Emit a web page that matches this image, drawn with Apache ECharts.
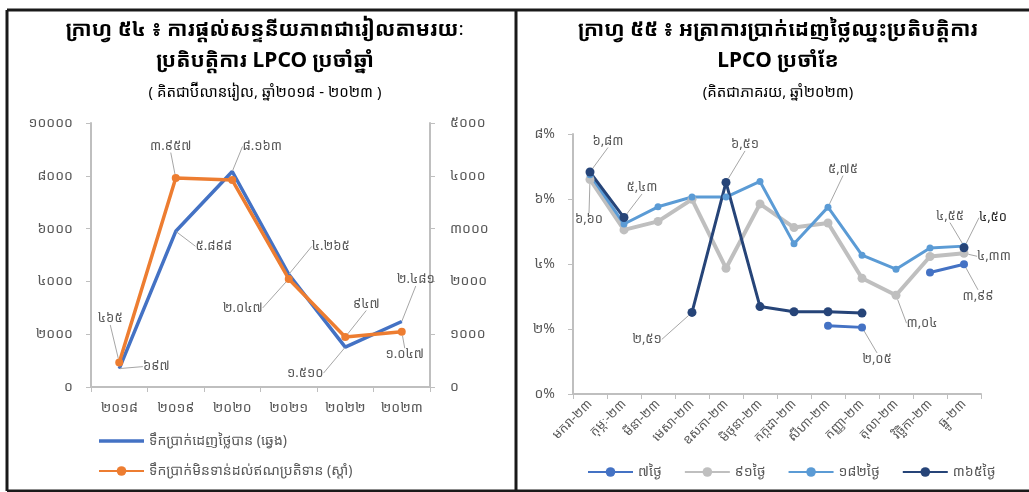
<!DOCTYPE html>
<html>
<head>
<meta charset="utf-8">
<script src="https://cdn.jsdelivr.net/npm/echarts@6/dist/echarts.min.js"></script>
<style>
    html, body { margin: 0; padding: 0; background: #fff; }
    #main { width: 1029px; height: 492px; }
</style>
</head>
<body>
<div id="main"></div>
<script>
// ក្រាហ្វ ៥៤ data
const years = ['២០១៨', '២០១៩', '២០២០', '២០២១', '២០២២', '២០២៣'];
const bidAmount = [697, 5898, 8163, 4265, 1510, 2481];          // left axis
const outstandingAmount = [465, 3957, 3920, 2047, 947, 1047];  // right axis
const leftTicks = [0, 2000, 4000, 6000, 8000, 10000];
const rightTicks = [0, 1000, 2000, 3000, 4000, 5000];

// ក្រាហ្វ ៥៥ data
const months = ['មករា-២៣', 'កុម្ភៈ-២៣', 'មីនា-២៣', 'មេសា-២៣', 'ឧសភា-២៣', 'មិថុនា-២៣',
    'កក្កដា-២៣', 'សីហា-២៣', 'កញ្ញា-២៣', 'តុលា-២៣', 'វិច្ឆិកា-២៣', 'ធ្នូ-២៣'];
const rate7 = [null, null, null, null, null, null, null, 2.10, 2.05, null, 3.74, 3.99];
const rate91 = [6.60, 5.05, 5.31, 5.99, 3.87, 5.85, 5.12, 5.26, 3.56, 3.04, 4.23, 4.33];
const rate182 = [6.75, 5.23, 5.76, 6.06, 6.06, 6.54, 4.62, 5.75, 4.27, 3.84, 4.49, 4.55];
const rate365 = [6.83, 5.43, null, 2.51, 6.51, 2.69, 2.53, 2.53, 2.49, null, null, 4.50];

const khDigits = '០១២៣៤៥៦៧៨៩';
function toKh(s) {
    return String(s).replace(/[0-9]/g, d => khDigits[+d]);
}
function fmtAmount(v) {
    return toKh(String(v).replace(/\B(?=(\d{3})+(?!\d))/g, '.'));
}
function fmtRate(v) {
    return toKh(v.toFixed(2).replace('.', ','));
}

// label offsets: [seriesIndex][dataIndex] = [dx, dy]
const labelOffsets = {
    0: {0: [37, -2], 1: [38, 15], 2: [30, -25], 3: [42, -28], 4: [-40, 26], 5: [14, -42]},
    1: {0: [-9, -44], 1: [-5, -32], 3: [-46, 29], 4: [21, -33], 5: [3, 23]},
    2: {8: [15, 32], 11: [14, 32]},
    3: {0: [-1, 40], 9: [26, 28], 11: [30, 3]},
    4: {7: [15, -38], 11: [-14, -30]},
    5: {0: [18, -31], 1: [18, -30], 3: [-45, 27], 4: [19, -38], 11: [29, -30]}
};

const khFont = '"Noto Sans Khmer", "Khmer OS", "Khmer OS System", "Noto Sans", sans-serif';
const labelGrey = '#595959';
const axisGrey = '#BFBFBF';

function withLabels(values, seriesIndex, fmt, darkIdx) {
    const offs = labelOffsets[seriesIndex] || {};
    return values.map((v, i) => {
        if (!(i in offs) || v === null) return v;
        return {
            value: v,
            label: {
                show: true,
                formatter: () => fmt(v),
                color: darkIdx === i ? '#262626' : labelGrey
            }
        };
    });
}

function labelLayout(params) {
    const offs = labelOffsets[params.seriesIndex] || {};
    const o = offs[params.dataIndex];
    if (!o) return {};
    return {dx: o[0], dy: o[1]};
}

const baseLabel = {
    show: false,
    position: 'inside',
    fontFamily: khFont,
    fontSize: 13,
    color: labelGrey
};
const baseLabelLine = {
    show: true,
    lineStyle: {color: '#A6A6A6', width: 1}
};

const chart = echarts.init(document.getElementById('main'), null, {renderer: 'canvas'});

const option = {
    backgroundColor: '#fff',
    textStyle: {fontFamily: khFont},
    animation: false,
    title: [{
        text: 'ក្រាហ្វ ៥៤ ៖ ការផ្ដល់សន្ទនីយភាពជារៀលតាមរយៈ\nប្រតិបត្តិការ LPCO ប្រចាំឆ្នាំ',
        subtext: '( គិតជាប៊ីលានរៀល, ឆ្នាំ២០១៨ - ២០២៣ )',
        left: 260,
        top: 10,
        textAlign: 'center',
        itemGap: 8,
        textStyle: {fontFamily: khFont, fontSize: 21, fontWeight: 'bold', color: '#000', lineHeight: 31},
        subtextStyle: {fontFamily: khFont, fontSize: 15, color: '#000'}
    }, {
        text: 'ក្រាហ្វ ៥៥ ៖ អត្រាការប្រាក់ដេញថ្លៃឈ្នះប្រតិបត្តិការ\nLPCO ប្រចាំខែ',
        subtext: '(គិតជាភាគរយ, ឆ្នាំ២០២៣)',
        left: 773,
        top: 10,
        textAlign: 'center',
        itemGap: 8,
        textStyle: {fontFamily: khFont, fontSize: 21, fontWeight: 'bold', color: '#000', lineHeight: 31},
        subtextStyle: {fontFamily: khFont, fontSize: 15, color: '#000'}
    }],
    legend: [{
        orient: 'vertical',
        left: 93,
        top: 429,
        itemWidth: 45,
        itemHeight: 12,
        itemGap: 16,
        data: [
            {name: 'ទឹកប្រាក់ដេញថ្លៃបាន (ឆ្វេង)', icon: 'path://M0,0 H45 V3.5 H0 Z'},
            {name: 'ទឹកប្រាក់មិនទាន់ដល់ឥណប្រតិទាន (ស្តាំ)'}
        ],
        textStyle: {fontFamily: khFont, fontSize: 14, color: labelGrey}
    }, {
        orient: 'horizontal',
        left: 582,
        top: 460,
        itemWidth: 45,
        itemHeight: 12,
        itemGap: 22,
        data: ['៧ថ្ងៃ', '៩១ថ្ងៃ', '១៨២ថ្ងៃ', '៣៦៥ថ្ងៃ'],
        textStyle: {fontFamily: khFont, fontSize: 14, color: labelGrey}
    }],
    grid: [
        {left: 91, right: 599, top: 123, bottom: 105},
        {left: 573, right: 48, top: 134, bottom: 98}
    ],
    xAxis: [{
        type: 'category',
        gridIndex: 0,
        data: years,
        boundaryGap: true,
        axisLine: {lineStyle: {color: axisGrey, width: 2}},
        axisTick: {show: true, length: 5, lineStyle: {color: axisGrey}},
        axisLabel: {fontFamily: khFont, fontSize: 14, color: labelGrey, margin: 14}
    }, {
        type: 'category',
        gridIndex: 1,
        data: months,
        boundaryGap: true,
        axisLine: {lineStyle: {color: axisGrey, width: 2}},
        axisTick: {show: true, length: 5, lineStyle: {color: axisGrey}},
        axisLabel: {fontFamily: khFont, fontSize: 13, color: labelGrey, rotate: 45, margin: 8, interval: 0}
    }],
    yAxis: [{
        type: 'value',
        gridIndex: 0,
        min: leftTicks[0],
        max: leftTicks[leftTicks.length - 1],
        interval: 2000,
        splitLine: {show: false},
        axisLine: {show: true, lineStyle: {color: axisGrey, width: 2}},
        axisTick: {show: true, length: 5, lineStyle: {color: axisGrey}},
        axisLabel: {fontFamily: khFont, fontSize: 14, color: labelGrey, margin: 18, formatter: v => toKh(v)}
    }, {
        type: 'value',
        gridIndex: 0,
        position: 'right',
        min: rightTicks[0],
        max: rightTicks[rightTicks.length - 1],
        interval: 1000,
        splitLine: {show: false},
        axisLine: {show: true, lineStyle: {color: axisGrey, width: 2}},
        axisTick: {show: true, length: 5, lineStyle: {color: axisGrey}},
        axisLabel: {fontFamily: khFont, fontSize: 14, color: labelGrey, margin: 20, formatter: v => toKh(v)}
    }, {
        type: 'value',
        gridIndex: 1,
        min: 0,
        max: 8,
        interval: 2,
        splitLine: {show: false},
        axisLine: {show: true, lineStyle: {color: axisGrey, width: 2}},
        axisTick: {show: true, length: 5, lineStyle: {color: axisGrey}},
        axisLabel: {fontFamily: khFont, fontSize: 14, color: labelGrey, margin: 18, formatter: v => toKh(v) + '%'}
    }],
    series: [{
        name: 'ទឹកប្រាក់ដេញថ្លៃបាន (ឆ្វេង)',
        type: 'line',
        xAxisIndex: 0,
        yAxisIndex: 0,
        data: withLabels(bidAmount, 0, fmtAmount),
        symbol: 'circle',
        symbolSize: 1,
        lineStyle: {color: '#4472C4', width: 3.5},
        itemStyle: {color: '#4472C4'},
        label: baseLabel,
        labelLine: baseLabelLine,
        labelLayout: labelLayout
    }, {
        name: 'ទឹកប្រាក់មិនទាន់ដល់ឥណប្រតិទាន (ស្តាំ)',
        type: 'line',
        xAxisIndex: 0,
        yAxisIndex: 1,
        data: withLabels(outstandingAmount, 1, fmtAmount),
        symbol: 'circle',
        symbolSize: 8,
        lineStyle: {color: '#ED7D31', width: 3.5},
        itemStyle: {color: '#ED7D31'},
        label: baseLabel,
        labelLine: baseLabelLine,
        labelLayout: labelLayout
    }, {
        name: '៧ថ្ងៃ',
        type: 'line',
        xAxisIndex: 1,
        yAxisIndex: 2,
        data: withLabels(rate7, 2, fmtRate),
        symbol: 'circle',
        symbolSize: 8,
        connectNulls: false,
        lineStyle: {color: '#4472C4', width: 3},
        itemStyle: {color: '#4472C4'},
        label: baseLabel,
        labelLine: baseLabelLine,
        labelLayout: labelLayout
    }, {
        name: '៩១ថ្ងៃ',
        type: 'line',
        xAxisIndex: 1,
        yAxisIndex: 2,
        data: withLabels(rate91, 3, fmtRate),
        symbol: 'circle',
        symbolSize: 9,
        lineStyle: {color: '#BFBFBF', width: 4},
        itemStyle: {color: '#BFBFBF'},
        label: baseLabel,
        labelLine: baseLabelLine,
        labelLayout: labelLayout
    }, {
        name: '១៨២ថ្ងៃ',
        type: 'line',
        xAxisIndex: 1,
        yAxisIndex: 2,
        data: withLabels(rate182, 4, fmtRate),
        symbol: 'circle',
        symbolSize: 7,
        lineStyle: {color: '#5B9BD5', width: 3},
        itemStyle: {color: '#5B9BD5'},
        label: baseLabel,
        labelLine: baseLabelLine,
        labelLayout: labelLayout
    }, {
        name: '៣៦៥ថ្ងៃ',
        type: 'line',
        xAxisIndex: 1,
        yAxisIndex: 2,
        data: withLabels(rate365, 5, fmtRate, 11),
        symbol: 'circle',
        symbolSize: 9,
        connectNulls: false,
        lineStyle: {color: '#264478', width: 3},
        itemStyle: {color: '#264478'},
        label: baseLabel,
        labelLine: baseLabelLine,
        labelLayout: labelLayout
    }],
    graphic: [
        // panel frames
        {type: 'line', shape: {x1: 7, y1: 10, x2: 1029, y2: 10}, style: {stroke: '#1a1a1a', lineWidth: 3}},
        {type: 'line', shape: {x1: 7, y1: 10, x2: 7, y2: 491}, style: {stroke: '#1a1a1a', lineWidth: 3}},
        {type: 'line', shape: {x1: 516, y1: 10, x2: 516, y2: 491}, style: {stroke: '#1a1a1a', lineWidth: 3}},
        {type: 'line', shape: {x1: 7, y1: 491, x2: 1029, y2: 491}, style: {stroke: '#1a1a1a', lineWidth: 3}}
    ]
};

chart.setOption(option);
</script>
</body>
</html>
